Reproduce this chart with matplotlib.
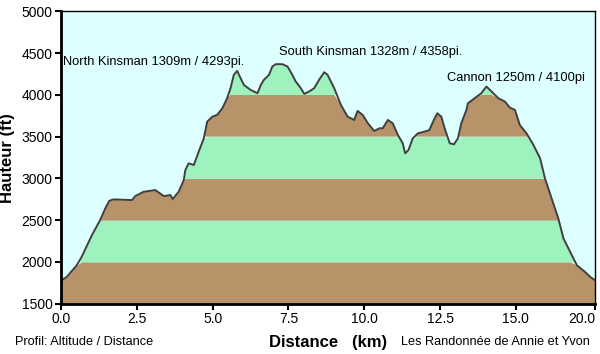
import matplotlib
matplotlib.use('Agg')
import matplotlib.pyplot as plt
import numpy as np

plt.rcParams['font.family'] = ['Liberation Sans', 'DejaVu Sans']

# profil (km, pieds)
dist_km = [0.0, 0.02, 0.19, 0.52, 0.68, 1.02, 1.29, 1.46, 1.59, 1.73, 2.34, 2.45, 2.72, 3.11,
           3.39, 3.61, 3.68, 3.88, 4.05, 4.10, 4.21, 4.38, 4.54, 4.71, 4.82, 4.99, 5.15, 5.32,
           5.48, 5.59, 5.70, 5.81, 5.87, 6.03, 6.25, 6.48, 6.59, 6.69, 6.86, 6.97, 7.08, 7.30,
           7.47, 7.63, 7.74, 7.91, 8.02, 8.18, 8.35, 8.51, 8.68, 8.79, 9.01, 9.23, 9.45, 9.67,
           9.78, 9.95, 10.12, 10.33, 10.50, 10.61, 10.78, 10.94, 11.11, 11.27, 11.35, 11.46,
           11.60, 11.77, 11.99, 12.15, 12.27, 12.41, 12.54, 12.67, 12.82, 12.96, 13.09, 13.20,
           13.37, 13.42, 13.64, 13.86, 14.03, 14.20, 14.42, 14.64, 14.80, 14.97, 15.13, 15.35,
           15.58, 15.80, 15.96, 16.18, 16.40, 16.57, 16.79, 17.01, 17.28, 17.45, 17.61]
alt_ft = [1760, 1780, 1819, 1960, 2059, 2320, 2500, 2640, 2731, 2748, 2740, 2788, 2839, 2860,
          2788, 2800, 2752, 2839, 2980, 3100, 3180, 3160, 3319, 3480, 3679, 3739, 3760, 3840,
          3960, 4080, 4240, 4288, 4240, 4120, 4060, 4020, 4120, 4180, 4240, 4340, 4368, 4368,
          4340, 4240, 4160, 4080, 4012, 4040, 4080, 4180, 4272, 4240, 4080, 3880, 3740, 3700,
          3808, 3760, 3660, 3568, 3600, 3600, 3700, 3660, 3520, 3420, 3300, 3340,
          3480, 3540, 3560, 3580, 3680, 3780, 3740, 3580, 3420, 3408, 3480, 3660,
          3820, 3900, 3960, 4020, 4100, 4040, 3960, 3920, 3848, 3820, 3640, 3540,
          3400, 3240, 3000, 2760, 2520, 2280, 2120, 1960, 1880, 1820, 1780]

bands = [1500, 2000, 2500, 3000, 3500, 4000, 4500]
band_colors = ['#B8936A', '#9EF2BE']

xticks = [0, 2.5, 5.0, 7.5, 10.0, 12.5, 15.0]
xticklabels = ['0.0', '2.5', '5.0', '7.5', '10.0', '12.5', '15.0']
yticks = [1500, 2000, 2500, 3000, 3500, 4000, 4500, 5000]

peaks = [
    ('North Kinsman 1309m / 4293pi.', 0.07, 4396),
    ('South Kinsman 1328m / 4358pi.', 7.2, 4516),
    ('Cannon 1250m / 4100pi', 12.74, 4204),
]

x = np.array(dist_km)
y = np.array(alt_ft)

fig = plt.figure(figsize=(6, 3.54), dpi=100)
ax = fig.add_axes([61 / 600, 50 / 354, 534 / 600, 293 / 354])
ax.set_facecolor('#DDFFFF')

for i in range(len(bands) - 1):
    lo, hi = bands[i], bands[i + 1]
    ax.fill_between(x, lo, np.minimum(y, hi), where=y > lo, interpolate=True,
                    color=band_colors[i % 2], linewidth=0)
ax.plot(x, y, color='#404040', lw=1.4)

ax.set_xlim(0, dist_km[-1])
ax.set_ylim(1495, 5005)
ax.set_xticks(xticks + [dist_km[-1]])
ax.set_xticklabels(xticklabels + ['20.0'])
ax.get_xticklabels()[-1].set_ha('right')
ax.set_yticks(yticks)
ax.tick_params(labelsize=10, length=4, width=1.5, colors='black', pad=2)

for s in ['left', 'bottom']:
    ax.spines[s].set_linewidth(2)
for s in ['top', 'right']:
    ax.spines[s].set_linewidth(1)

for label, px, py in peaks:
    ax.text(px, py, label, fontsize=9.3, ha='left', va='center')

fig.text(8 / 600, 1 - 158 / 354, 'Hauteur (ft)', rotation=90, fontsize=12,
         fontweight='bold', ha='center', va='center')
fig.text(328 / 600, 1 - 342 / 354, 'Distance   (km)', fontsize=12,
         fontweight='bold', ha='center', va='center')
fig.text(15 / 600, 1 - 342 / 354, 'Profil: Altitude / Distance', fontsize=9.2,
         ha='left', va='center')
fig.text(590 / 600, 1 - 342 / 354, 'Les Randonnée de Annie et Yvon', fontsize=9.2,
         ha='right', va='center')

fig.savefig('out.png', dpi=100)
